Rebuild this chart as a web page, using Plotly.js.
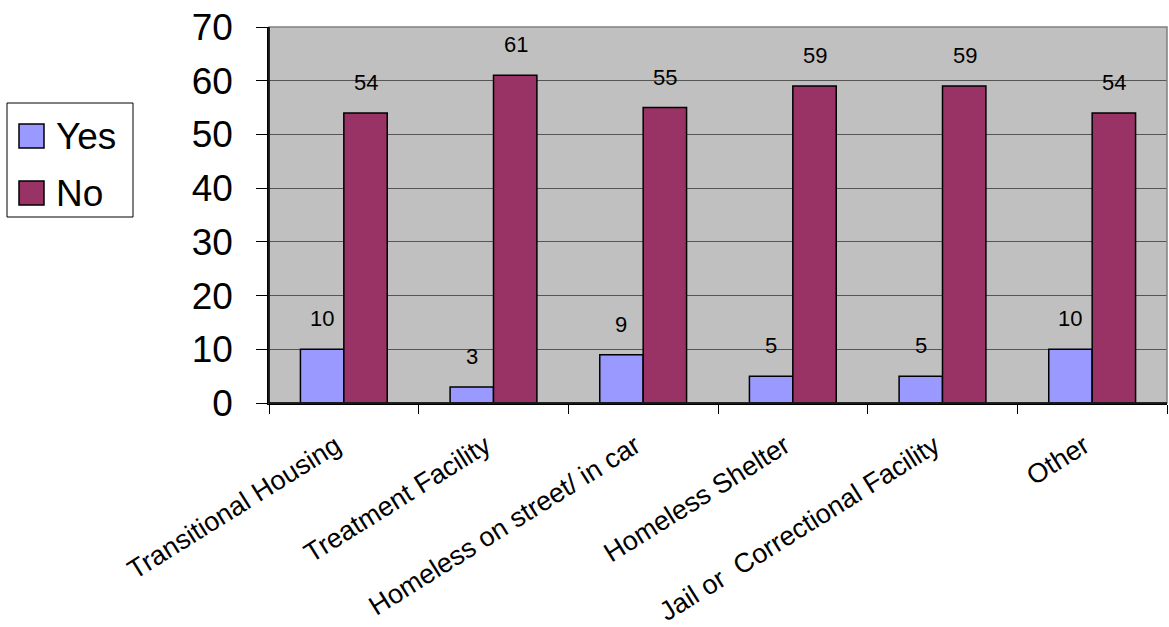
<!DOCTYPE html>
<html>
<head>
<meta charset="utf-8">
<script src="https://cdn.plot.ly/plotly-3.0.1.min.js"></script>
<style>html,body{margin:0;padding:0;background:#fff;}#chart{width:1169px;height:627px;}</style>
</head>
<body>
<div id="chart"></div>
<script>
const categories = ["Transitional Housing", "Treatment Facility", "Homeless on street/ in car", "Homeless Shelter", "Jail or  Correctional Facility", "Other"];
const seriesNames = ["Yes", "No"];
const yesValues = [10, 3, 9, 5, 5, 10];
const noValues = [54, 61, 55, 59, 59, 54];
const yTickVals = [0, 10, 20, 30, 40, 50, 60, 70];
const colors = ["#9999ff", "#993366"];

const W = 1169, H = 627;
const M = {l: 269, r: 2, t: 27, b: 224};
const pw = W - M.l - M.r, ph = H - M.t - M.b;
const px = x => (x - M.l) / pw;
const py = y => (H - M.b - y) / ph;

const mk = (name, vals, color) => ({
  type: "bar", name: name, x: categories, y: vals,
  marker: {color: color, line: {color: "#000", width: 1.5}},
  showlegend: false, hoverinfo: "x+y"
});
const traces = [mk(seriesNames[0], yesValues, colors[0]), mk(seriesNames[1], noValues, colors[1])];

const annotations = [];
[yesValues, noValues].forEach((vals, si) => {
  vals.forEach((v, i) => {
    annotations.push({
      x: categories[i], y: v, xref: "x", yref: "y", text: String(v), showarrow: false,
      xshift: si === 0 ? -22 : 22, yshift: 16, yanchor: "bottom",
      font: {family: "Liberation Sans, Arial, sans-serif", size: 22, color: "#000"}
    });
  });
});

// legend
const shapes = [
  {type: "rect", xref: "paper", yref: "paper", x0: 0, x1: 1, y0: 0, y1: 1, line: {color: "#808080", width: 1.5}, fillcolor: "rgba(0,0,0,0)", layer: "above"},
  {type: "line", xref: "paper", yref: "paper", x0: 0, x1: 0, y0: 0, y1: 1, line: {color: "#000", width: 1.5}, layer: "above"},
  {type: "line", xref: "paper", yref: "paper", x0: 0, x1: 1, y0: 0, y1: 0, line: {color: "#000", width: 1.5}, layer: "above"},
  {type: "rect", xref: "paper", yref: "paper", x0: px(7), x1: px(133), y0: py(217), y1: py(103), line: {color: "#000", width: 1}, fillcolor: "#fff"}
];
const legY = [136, 193];
seriesNames.forEach((n, i) => {
  shapes.push({type: "rect", xref: "paper", yref: "paper", x0: px(19), x1: px(44), y0: py(legY[i] + 12), y1: py(legY[i] - 12), line: {color: "#000", width: 1.5}, fillcolor: colors[i]});
  annotations.push({xref: "paper", yref: "paper", x: px(54), y: py(legY[i]), xanchor: "left", yanchor: "middle", text: n, showarrow: false,
    font: {family: "Liberation Sans, Arial, sans-serif", size: 37, color: "#000"}});
});

const layout = {
  width: W, height: H, margin: M,
  paper_bgcolor: "#fff", plot_bgcolor: "#c0c0c0",
  barmode: "group", bargap: 0.42, bargroupgap: 0,
  showlegend: false,
  font: {family: "Liberation Sans, Arial, sans-serif", color: "#000"},
  xaxis: {
    type: "category", tickangle: -32, tickson: "boundaries", ticks: "outside", ticklen: 9, tickcolor: "#000", tickwidth: 1,
    showline: true, linecolor: "#000", linewidth: 1.5, showgrid: false, zeroline: false,
    tickfont: {size: 27, color: "#000"}, ticklabelstandoff: 15, ticklabelshift: -8
  },
  yaxis: {
    range: [0, 70], tickvals: yTickVals, ticktext: yTickVals.map(String), ticks: "outside", ticklen: 11, tickcolor: "#000",
    showline: true, linecolor: "#000", linewidth: 1.5, showgrid: true, gridcolor: "#555", gridwidth: 1, zeroline: false,
    tickfont: {size: 37, color: "#000"}, ticklabelstandoff: 16
  },
  shapes: shapes, annotations: annotations
};
Plotly.newPlot("chart", traces, layout, {displayModeBar: false});
</script>
</body>
</html>
